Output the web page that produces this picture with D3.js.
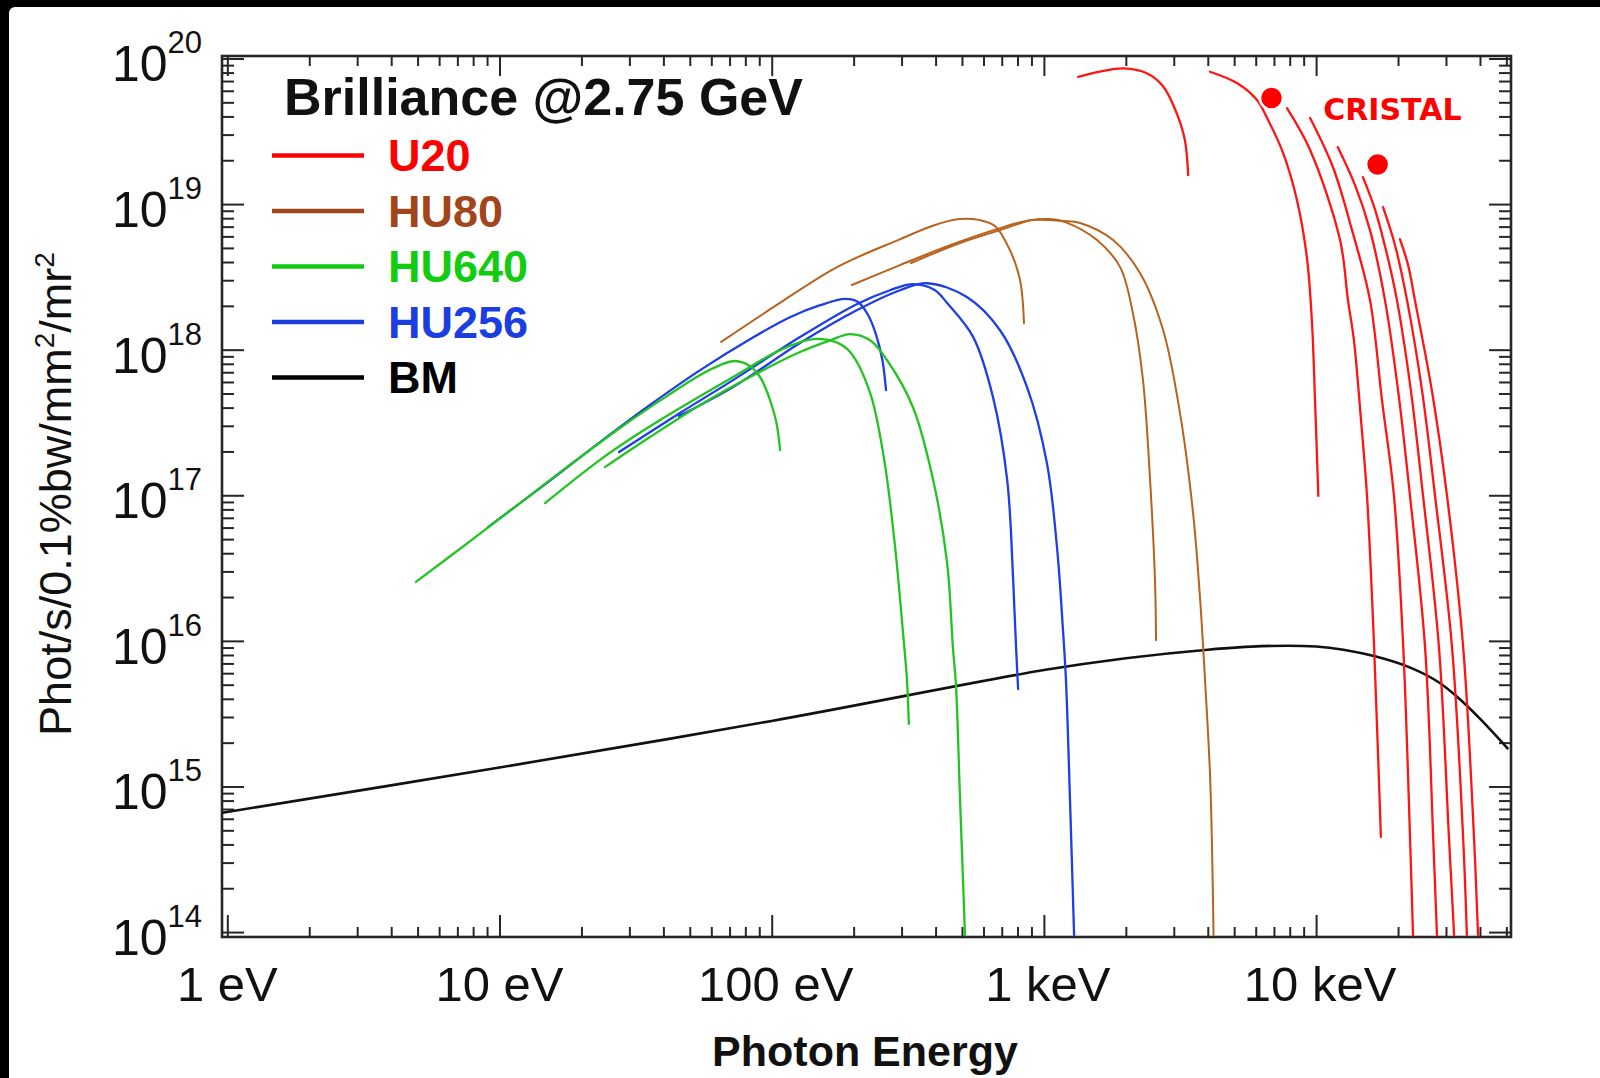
<!DOCTYPE html>
<html><head><meta charset="utf-8">
<script src="https://cdn.jsdelivr.net/npm/d3@7"></script>
<style>
html,body{margin:0;padding:0;background:#fff;}
svg{display:block;}
text{font-family:"Liberation Sans",Arial,Helvetica,sans-serif;}
</style></head>
<body>
<svg id="chart" width="1600" height="1078"></svg>
<script>
// ---------------- DATA (photon energy in eV, brilliance in ph/s/0.1%bw/mm2/mr2) ----------------
const X_DOMAIN = [0.956, 52000];
const Y_DOMAIN = [9.25e13, 1.04e20];

const xMajorTicks = [1, 10, 100, 1000, 10000];
const xTickLabels = ["1 eV", "10 eV", "100 eV", "1 keV", "10 keV"];
const yMajorExponents = [14, 15, 16, 17, 18, 19, 20];

const legendLabels = ["U20", "HU80", "HU640", "HU256", "BM"];

const BM = [[0.96,6.6e14],[10,1.35e15],[100,2.82e15],[1000,6.3e15],[2000,7.6e15],[4000,8.7e15],
  [6300,9.2e15],[10000,9.15e15],[12600,8.7e15],[16600,7.8e15],[22400,6.5e15],
  [28200,5.2e15],[33100,4.1e15],[39800,2.95e15],[50500,1.83e15]];

const U20_1 = [[1337,7.48e19],[1607,8.11e19],[1959,8.55e19],[2388,7.91e19],[2748,6.40e19],[3076,4.20e19],[3296,2.75e19],[3388,1.58e19]];
const U20_2 = [[4074,8.11e19],[5117,6.78e19],[6067,5.18e19],[6607,3.90e19],[7568,2.24e19],[8511,1.06e19],[9247,4.33e18],[9661,1.52e18],[9908,4.51e17],[10190,9.9e16]];
const U20_3 = [[7816,4.56e19],[9506,2.35e19],[12246,5.66e18],[13092,2.19e18],[13772,1.16e18],[14622,3.28e17],[15382,9.9e16],[16331,9.2e15],[16866,1.78e15],[17298,4.5e14]];
const U20_4 = [[9506,3.90e19],[11535,1.79e19],[13552,6.62e18],[15776,2.19e18],[17458,4.51e17],[19320,9.9e16],[20893,9.2e15],[22131,4.5e14],[22699,9.5e13]];
const U20_5 = [[12023,2.46e19],[13900,1.35e19],[15776,6.62e18],[17906,2.19e18],[20000,5.28e17],[22131,9.9e16],[25119,9.2e15],[26915,4.5e14],[27797,9.5e13]];
const U20_6 = [[14859,1.53e19],[16482,9.1e18],[18239,4.47e18],[19815,2.19e18],[22284,5.28e17],[24717,9.9e16],[28251,9.2e15],[30761,4.5e14],[32137,9.5e13]];
const U20_7 = [[17620,9.53e18],[19498,5.22e18],[21577,2.19e18],[24491,5.28e17],[27353,9.9e16],[31550,9.2e15],[34674,4.5e14],[35810,9.5e13]];
const U20_8 = [[20324,5.75e18],[21777,3.81e18],[23067,2.19e18],[26607,5.28e17],[30269,9.9e16],[34674,9.2e15],[38019,4.5e14],[39355,9.5e13]];

const HU80_1 = [[65.2,1.13e18],[102.8,1.99e18],[173.8,3.69e18],[291,5.66e18],[398,7.18e18],[488,7.89e18],[582,7.76e18],[661,7.06e18],[750,4.83e18],[817,3.01e18],[845,1.52e18]];
const HU80_2 = [[197,2.78e18],[296,3.81e18],[452,5.22e18],[690,6.84e18],[889,7.76e18],[1052,7.89e18],[1197,7.52e18],[1567,5.66e18],[1905,3.69e18],[2123,1.78e18],[2312,6.18e17],[2455,1.27e17],[2559,2.62e16],[2582,1.01e16]];
const HU80_3 = [[325,3.94e18],[492,5.40e18],[690,6.62e18],[912,7.76e18],[1175,7.64e18],[1358,7.41e18],[1795,5.66e18],[2254,3.36e18],[2742,1.36e18],[3162,3.67e17],[3532,7.55e16],[3750,1.91e16],[3908,5.38e15],[4083,1.11e15],[4200,9.5e13]];

const HU256_1 = [[9.08,6.05e16],[14.7,1.19e17],[23.4,2.32e17],[35.7,4.17e17],[54.6,7.24e17],[83.2,1.18e18],[116.7,1.67e18],[150.7,2.02e18],[186.2,2.23e18],[208,2.12e18],[226,1.73e18],[242,1.26e18],[255,8.49e17],[263,5.28e17]];
const HU256_2 = [[27.5,1.98e17],[46.0,3.67e17],[72.1,6.18e17],[127,1.22e18],[206,2.06e18],[272,2.56e18],[330,2.82e18],[398,2.56e18],[441,2.09e18],[550,1.22e18],[650,4.72e17],[733,1.27e17],[771,2.62e16],[791,8.65e15],[804,4.67e15]];
const HU256_3 = [[45.6,3.50e17],[72.1,5.53e17],[127,1.11e18],[206,1.87e18],[296,2.56e18],[372,2.86e18],[521,2.30e18],[690,1.36e18],[867,5.53e17],[1026,1.66e17],[1117,4.41e16],[1175,1.19e16],[1205,5.38e15],[1247,8.07e14],[1291,9.5e13]];

const HU640_1 = [[4.93,2.54e16],[7.80,4.84e16],[11.9,8.83e16],[17.7,1.56e17],[27.7,2.90e17],[41.2,4.80e17],[54.6,6.70e17],[64.6,7.83e17],[73.3,8.36e17],[83.2,7.71e17],[90.6,6.49e17],[96.2,5.12e17],[101.2,3.85e17],[104.5,3.03e17],[107.4,2.04e17]];
const HU640_2 = [[14.7,8.83e16],[23.4,1.75e17],[31.0,2.51e17],[46.0,3.97e17],[72.1,6.49e17],[107.4,9.93e17],[141.9,1.18e18],[171,1.13e18],[194,9.64e17],[230,5.04e17],[259,1.75e17],[284,4.41e16],[303,1.19e16],[314,5.38e15],[319,2.69e15]];
const HU640_3 = [[24.4,1.56e17],[35.7,2.51e17],[54.6,4.17e17],[83.2,6.49e17],[127,9.64e17],[164,1.16e18],[194,1.28e18],[230,1.16e18],[265,8.49e17],[330,4.04e17],[392,1.27e17],[441,3.42e16],[463,9.06e15],[475,5.05e15],[492,8.07e14],[513,9.5e13]];

const cristalPoints = [[6855,5.35e19],[16826,1.87e19]];
const cristalLabel = {text:"CRISTAL", E:10620, B:3.78e19};

// ---------------- STYLES ----------------
const colors = {U20:"#ff1414", HU80:"#b8621e", HU640:"#22c422", HU256:"#1e3ee6", BM:"#111111"};
const legendColors = {U20:"#ff0000", HU80:"#a3451b", HU640:"#12cc12", HU256:"#1a3ee0", BM:"#000000"};

const series = [
  {data:BM, key:"BM", w:2.6},
  {data:U20_1,key:"U20",w:2.3},{data:U20_2,key:"U20",w:2.3},{data:U20_3,key:"U20",w:2.3},{data:U20_4,key:"U20",w:2.3},
  {data:U20_5,key:"U20",w:2.3},{data:U20_6,key:"U20",w:2.3},{data:U20_7,key:"U20",w:2.3},{data:U20_8,key:"U20",w:2.3},
  {data:HU80_1,key:"HU80",w:2},{data:HU80_2,key:"HU80",w:2},{data:HU80_3,key:"HU80",w:2},
  {data:HU256_1,key:"HU256",w:2.3},{data:HU256_2,key:"HU256",w:2.3},{data:HU256_3,key:"HU256",w:2.3},
  {data:HU640_1,key:"HU640",w:2.3},{data:HU640_2,key:"HU640",w:2.3},{data:HU640_3,key:"HU640",w:2.3}
];

// ---------------- CHART ----------------
const W = 1600, H = 1078;
const plot = {left:222, right:1511, top:56, bottom:937};
const svg = d3.select("#chart");

svg.append("rect").attr("x",0).attr("y",0).attr("width",W).attr("height",H).attr("fill","#000");
svg.append("rect").attr("x",9).attr("y",7).attr("width",W).attr("height",H).attr("rx",6).attr("fill","#fff");

const x = d3.scaleLog().domain(X_DOMAIN).range([plot.left, plot.right]);
const y = d3.scaleLog().domain(Y_DOMAIN).range([plot.bottom, plot.top]);

svg.append("defs").append("clipPath").attr("id","clip").append("rect")
  .attr("x",plot.left).attr("y",plot.top).attr("width",plot.right-plot.left).attr("height",plot.bottom-plot.top);

// minor ticks
const minorX = [];
xMajorTicks.forEach(d => { for (let k=2;k<=9;k++){ const v=d*k; if (v<=X_DOMAIN[1]) minorX.push(v);} });
const majorY = yMajorExponents.map(e => Math.pow(10,e));
const minorY = [];
yMajorExponents.forEach(e => { for (let k=2;k<=9;k++){ const v=k*Math.pow(10,e); if (v<=Y_DOMAIN[1]) minorY.push(v);} });

function drawAxis(gen, transform, values, size){
  const g = svg.append("g").attr("transform", transform)
    .call(gen.tickValues(values).tickSize(size).tickFormat(() => ""));
  g.select(".domain").remove();
  g.selectAll(".tick line").attr("stroke","#262626").attr("stroke-width",2);
  g.selectAll(".tick text").remove();
}
drawAxis(d3.axisBottom(x), `translate(0,${plot.bottom})`, xMajorTicks, -22);
drawAxis(d3.axisBottom(x), `translate(0,${plot.bottom})`, minorX, -10);
drawAxis(d3.axisTop(x), `translate(0,${plot.top})`, xMajorTicks, -20);
drawAxis(d3.axisTop(x), `translate(0,${plot.top})`, minorX, -10);
drawAxis(d3.axisLeft(y), `translate(${plot.left},0)`, majorY, -22);
drawAxis(d3.axisLeft(y), `translate(${plot.left},0)`, minorY, -12);
drawAxis(d3.axisRight(y), `translate(${plot.right},0)`, majorY, -22);
drawAxis(d3.axisRight(y), `translate(${plot.right},0)`, minorY, -12);

// frame
svg.append("rect").attr("x",plot.left).attr("y",plot.top)
  .attr("width",plot.right-plot.left).attr("height",plot.bottom-plot.top)
  .attr("fill","none").attr("stroke","#262626").attr("stroke-width",2.6);

// x tick labels
svg.append("g").selectAll("text").data(xMajorTicks).join("text")
  .attr("x", (d,i) => x(d) + (i > 1 ? 4 : 0)).attr("y", 1001)
  .attr("text-anchor","middle").style("font-size","49px").attr("fill","#111")
  .text((d,i) => xTickLabels[i]);

// y tick labels
const yl = svg.append("g").selectAll("text").data(yMajorExponents).join("text")
  .attr("x", 202).attr("y", e => y(Math.pow(10,e)) + 23)
  .attr("text-anchor","end").attr("fill","#111");
yl.append("tspan").style("font-size","50px").text("10");
yl.append("tspan").attr("dy",-28).style("font-size","31px").text(e => e);

// axis titles
svg.append("text").attr("x",865).attr("y",1066).attr("text-anchor","middle")
  .style("font-size","43px").style("font-weight","bold").attr("fill","#111").text("Photon Energy");
const yt = svg.append("text").attr("transform","translate(71,494) rotate(-90)")
  .attr("text-anchor","middle").style("font-size","45px").attr("fill","#111");
yt.append("tspan").text("Phot/s/0.1%bw/mm");
yt.append("tspan").attr("dy",-17).style("font-size","28px").text("2");
yt.append("tspan").attr("dy",17).text("/mr");
yt.append("tspan").attr("dy",-17).style("font-size","28px").text("2");

// curves
const line = d3.line().x(d => x(d[0])).y(d => y(d[1])).curve(d3.curveCatmullRom.alpha(0.5));
svg.append("g").attr("clip-path","url(#clip)").selectAll("path").data(series).join("path")
  .attr("d", s => line(s.data)).attr("fill","none")
  .attr("stroke", s => colors[s.key]).attr("stroke-width", s => s.w)
  .attr("stroke-linejoin","round").attr("stroke-linecap","round");

// CRISTAL annotation
svg.append("g").selectAll("circle").data(cristalPoints).join("circle")
  .attr("cx", d => x(d[0])).attr("cy", d => y(d[1])).attr("r", 11.5)
  .attr("fill","#ff0000").attr("stroke","#fff").attr("stroke-width",2.5);
svg.append("text").attr("x", x(cristalLabel.E)).attr("y", y(cristalLabel.B))
  .style("font-family","'Comic Sans MS','DejaVu Sans',sans-serif").style("font-weight","bold")
  .style("font-size","30px").attr("fill","#ff0000").text(cristalLabel.text);

// title + legend
svg.append("text").attr("x",284).attr("y",115).style("font-size","52px").style("font-weight","bold")
  .attr("fill","#111").text("Brilliance @2.75 GeV");
const leg = svg.append("g").selectAll("g").data(legendLabels).join("g")
  .attr("transform", (d,i) => `translate(0,${155.5 + i*55.5})`);
leg.append("line").attr("x1",272).attr("x2",364).attr("y1",0).attr("y2",0)
  .attr("stroke", d => legendColors[d]).attr("stroke-width",4.5);
leg.append("text").attr("x",388).attr("y",15.5).style("font-size","45px").style("font-weight","bold")
  .attr("fill", d => legendColors[d]).text(d => d);
</script>
</body></html>
